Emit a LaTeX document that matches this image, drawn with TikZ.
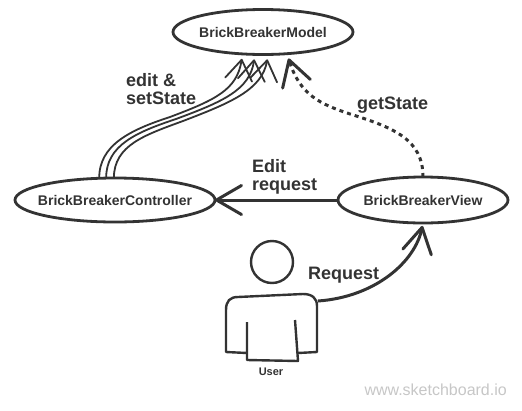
\documentclass[tikz,border=0pt]{standalone}
\usepackage{fontspec}
\setmainfont{Liberation Sans}
\usetikzlibrary{shapes.geometric,arrows.meta}
\definecolor{ink}{HTML}{333333}
\newcommand{\lapped}[1]{\makebox[0pt][c]{#1}}
\tikzset{
  x=1pt,y=-1pt,
  actor/.style={draw=ink,ellipse,line width=2.8pt,inner sep=0pt,outer sep=0pt,fill=white,text=ink,font=\bfseries\fontsize{14}{16}\selectfont},
  lbl/.style={text=ink,font=\bfseries\fontsize{18}{18}\selectfont,align=left,inner sep=0pt,anchor=west},
  bigarrow/.style={draw=ink,line width=3pt,-{Straight Barb[length=25pt,width=29pt,line width=3pt,round]}},
  thinarrow/.style={draw=ink,line width=1.8pt,-{Straight Barb[length=20pt,width=27pt,line width=1.8pt,round]},shorten >=5pt},
  figure/.style={draw=ink,line width=2.4pt,line join=round}
}
\begin{document}
\begin{tikzpicture}
\useasboundingbox (0,0) rectangle (522,410);
\fill[white] (0,0) rectangle (522,410);
\node[actor,minimum width=180pt,minimum height=45pt] (model) at (263,32) {\lapped{BrickBreakerModel}};
\node[actor,minimum width=200pt,minimum height=44pt] (ctrl) at (115,200) {\lapped{BrickBreakerController}};
\node[actor,minimum width=170pt,minimum height=46pt] (view) at (423,200) {\lapped{BrickBreakerView}};
% three thin edges
\draw[thinarrow] (ctrl.126) .. controls (99,145) and (130,130) .. (170,117) .. controls (215,100) and (237,90) .. (model.227);
\draw[thinarrow] (ctrl.112) .. controls (106,145) and (137,132) .. (176,119) .. controls (222,102) and (250,90) .. (model.250);
\draw[thinarrow] (ctrl.93) .. controls (114,145) and (145,135) .. (183,121) .. controls (230,103) and (262,90) .. (model.283);
% dotted
\draw[bigarrow,dash pattern=on 4pt off 4pt,shorten >=5pt] (view.90) .. controls (423,140) and (395,128) .. (350,114) .. controls (320,104) and (300,95) .. (model.318.5);
% edit request
\draw[bigarrow] (view.west) -- (ctrl.east);
% user
\node[draw=ink,circle,line width=2.4pt,minimum size=42pt,inner sep=0pt] (head) at (272,262) {};
\coordinate (shoulder) at (318,301);
\draw[figure] (247,353) -- (226,352) -- (226,310) .. controls (226,301) and (230,297) .. (238,297) -- (303,294) .. controls (312,294) and (317,298) .. (317,306) -- (317,352) -- (298,353);
\draw[figure] (247,322) -- (247,360) -- (298,361) -- (295,320);
\node[text=ink,font=\bfseries\fontsize{11}{12}\selectfont,inner sep=0pt] (user) at (271,372) {User};
\draw[bigarrow,shorten >=3pt] (shoulder) .. controls (375,297) and (415,262) .. (view.270);
% labels
\node[lbl] (l1) at (126,89) {edit \&\\setState};
\node[lbl] (l2) at (357,105) {getState};
\node[lbl] (l3) at (252,177) {Edit\\request};
\node[lbl] (l4) at (308,275) {Request};
\node[text=black!22,font=\fontsize{16}{18}\selectfont,inner sep=0pt,anchor=east] (wm) at (507,390) {www.sketchboard.io};
\end{tikzpicture}
\end{document}
